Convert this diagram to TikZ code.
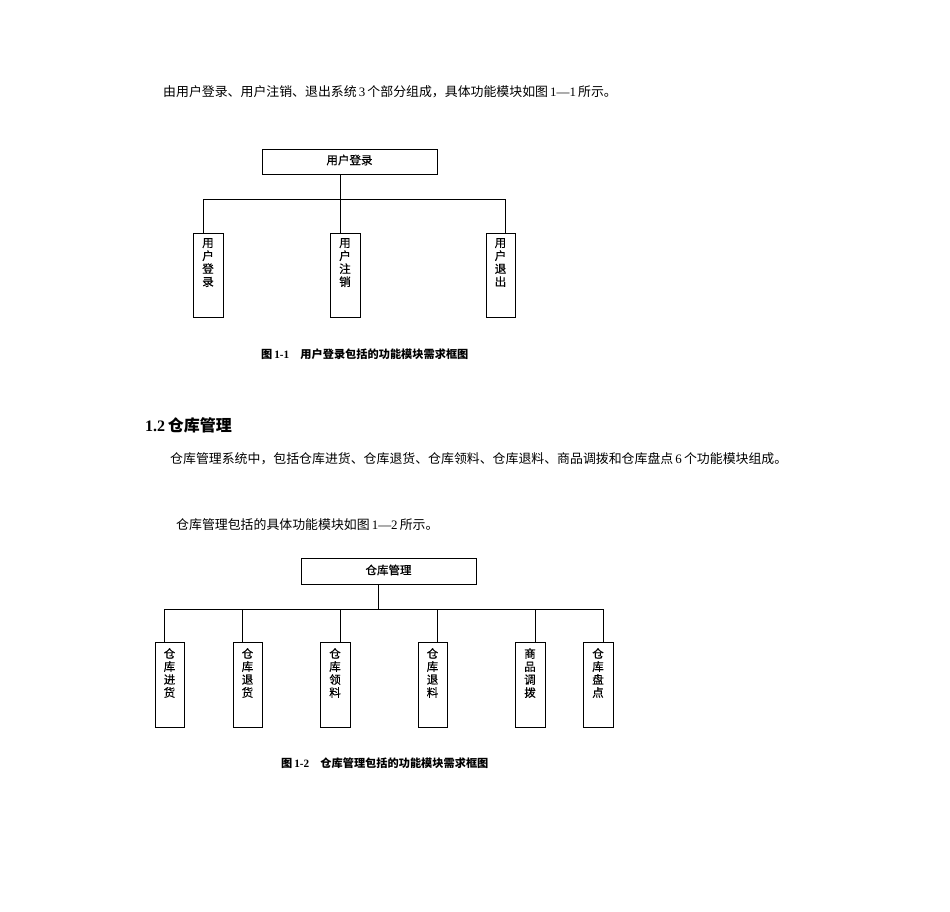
\documentclass[tikz,border=0pt]{standalone}
\usepackage{fontspec}
\setmainfont{Liberation Serif}
\newfontfamily\cjk{Noto Sans CJK SC}
\newfontfamily\cjkm[FakeBold=0.6]{Noto Sans CJK SC}
\begin{document}
\begin{tikzpicture}[x=1pt,y=-1pt,
  box/.style={draw=black,line width=0.8pt,inner sep=0pt},
  conn/.style={draw=black,line width=0.8pt},
  vtext/.style={anchor=north,align=center,inner sep=0pt,font=\cjkm\fontsize{11.5}{13}\selectfont},
  htext/.style={font=\cjkm\fontsize{11.5}{13}\selectfont,inner sep=0pt},
  body/.style={anchor=west,inner sep=0pt,font=\fontsize{12.9}{15}\selectfont},
  captext/.style={anchor=west,inner sep=0pt,font=\bfseries\fontsize{11.2}{13}\selectfont}]
\useasboundingbox[fill=white] (0,0) rectangle (950,911);

% text
\node[body] (p1) at (163,92) {{\cjk 由用户登录、用户注销、退出系统}\,3\,{\cjk 个部分组成，具体功能模块如图}\,1—1\,{\cjk 所示。}};
\node[captext] (c1) at (261,354) {{\cjk 图}\,1-1\quad{\cjk 用户登录包括的功能模块需求框图}};
\node[anchor=west,inner sep=0pt,font=\bfseries\fontsize{16}{18}\selectfont] (h) at (145,425) {1.2\,{\cjk 仓库管理}};
\node[body] (p2) at (170,459) {{\cjk 仓库管理系统中，包括仓库进货、仓库退货、仓库领料、仓库退料、商品调拨和仓库盘点}\,6\,{\cjk 个功能模块组成。}};
\node[body] (p3) at (176,525) {{\cjk 仓库管理包括的具体功能模块如图}\,1—2\,{\cjk 所示。}};
\node[captext] (c2) at (281,763) {{\cjk 图}\,1-2\quad{\cjk 仓库管理包括的功能模块需求框图}};

% diagram 1
\draw[box] (262,149) rectangle (437,174);
\node[htext] (t1) at (349.5,160) {用户登录};
\coordinate (t1b) at (340,174);
\coordinate (j1) at (340,199);
\coordinate (jl) at (203,199);
\coordinate (jr) at (505,199);
\draw[box] (193,233) rectangle (223,317);
\draw[box] (330,233) rectangle (360,317);
\draw[box] (486,233) rectangle (515,317);
\node[vtext] (a1) at (208,238) {用\\户\\登\\录};
\node[vtext] (a2) at (345,238) {用\\户\\注\\销};
\node[vtext] (a3) at (500.5,238) {用\\户\\退\\出};
\draw[conn] (t1b) -- (340,233);
\draw[conn] (jl) -- (jr);
\draw[conn] (jl) -- (203,233);
\draw[conn] (jr) -- (505,233);

% diagram 2
\draw[box] (301,558) rectangle (476,584);
\node[htext] (t2) at (388.5,570) {仓库管理};
\coordinate (j2) at (378,609);
\draw[conn] (378,584) -- (j2);
\draw[conn] (164,609) -- (603,609);
\foreach \lx/\bl/\br/\tx/\txt in {164/155/184/169.5/{仓\\库\\进\\货},
  242/233/262/247.5/{仓\\库\\退\\货},
  340/320/350/335/{仓\\库\\领\\料},
  437/418/447/432.5/{仓\\库\\退\\料},
  535/515/545/530/{商\\品\\调\\拨},
  603/583/613/598/{仓\\库\\盘\\点}}{
  \draw[box] (\bl,642) rectangle (\br,727);
  \draw[conn] (\lx,609) -- (\lx,642);
  \node[vtext] at (\tx,648) {\txt};
}
\end{tikzpicture}
\end{document}
